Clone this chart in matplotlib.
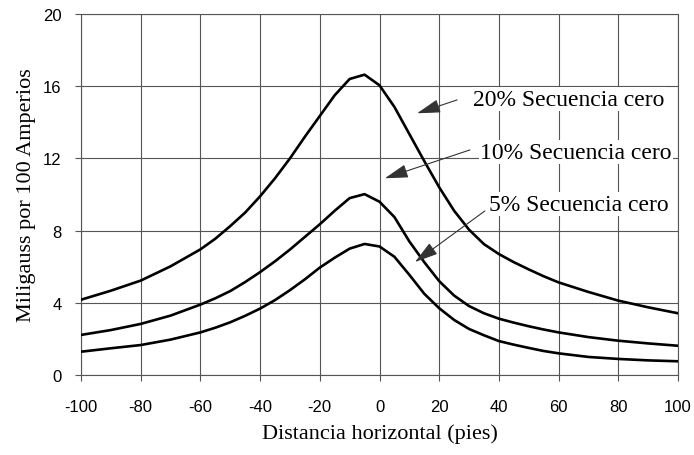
import matplotlib.pyplot as plt

plt.rcParams['axes.unicode_minus'] = False

# Distancia horizontal (pies)
x = [-100, -90, -80, -70, -60, -55, -50, -45, -40, -35, -30, -25, -20, -15, -10, -5,
     0, 5, 10, 15, 20, 25, 30, 35, 40, 45, 50, 55, 60, 70, 80, 90, 100]

# Miligauss por 100 Amperios
seq_20 = [4.17, 4.67, 5.23, 6.02, 6.96, 7.55, 8.25, 9.0, 9.9, 10.9, 12.0, 13.2, 14.35, 15.5, 16.4, 16.64,
          16.05, 14.85, 13.35, 11.85, 10.4, 9.1, 8.05, 7.25, 6.7, 6.25, 5.85, 5.47, 5.13, 4.6, 4.12, 3.75, 3.42]
seq_10 = [2.22, 2.49, 2.83, 3.29, 3.9, 4.25, 4.65, 5.15, 5.7, 6.3, 6.95, 7.65, 8.35, 9.1, 9.8, 10.02,
          9.6, 8.75, 7.4, 6.25, 5.2, 4.4, 3.82, 3.42, 3.12, 2.9, 2.7, 2.52, 2.36, 2.1, 1.9, 1.75, 1.62]
seq_5 = [1.29, 1.48, 1.66, 1.96, 2.36, 2.62, 2.92, 3.28, 3.68, 4.15, 4.7, 5.3, 5.95, 6.5, 7.0, 7.26,
         7.12, 6.55, 5.55, 4.5, 3.7, 3.05, 2.55, 2.2, 1.88, 1.68, 1.5, 1.33, 1.2, 1.0, 0.89, 0.81, 0.76]

labels = ['20% Secuencia cero', '10% Secuencia cero', '5% Secuencia cero']
text_pos = [(31.3, 15.29), (33.7, 12.35), (36.7, 9.47)]
arrow_tail = [(26.0, 15.24), (30.3, 12.47), (35.3, 9.09)]
arrow_head = [(12.6, 14.5), (1.8, 10.9), (11.9, 6.26)]

serif = 'Liberation Serif'
sans = 'Liberation Sans'
grid_col = '#555555'

fig = plt.figure(figsize=(6.94, 4.56), dpi=100)
ax = fig.add_axes([81 / 694, 80 / 456, 597 / 694, 361 / 456])

for s in [seq_20, seq_10, seq_5]:
    ax.plot(x, s, color='black', lw=1.9, zorder=3, solid_joinstyle='round')

ax.set_xlim(-100, 100)
ax.set_ylim(0, 20)
ax.set_xticks(range(-100, 101, 20))
ax.set_yticks(range(0, 21, 4))
ax.grid(True, color=grid_col, lw=0.8)
ax.set_axisbelow(True)
for sp in ax.spines.values():
    sp.set_color(grid_col)
    sp.set_linewidth(0.8)
ax.tick_params(direction='out', length=4, width=0.8, color=grid_col, labelsize=12)
for lab in ax.get_xticklabels() + ax.get_yticklabels():
    lab.set_fontfamily(sans)
ax.tick_params(axis='x', pad=13)
ax.tick_params(axis='y', pad=10)

ax.set_xlabel('Distancia horizontal (pies)', fontfamily=serif, fontsize=16)
ax.set_ylabel('Miligauss por 100 Amperios', fontfamily=serif, fontsize=16)
ax.xaxis.set_label_coords(0.5, -0.135)
ax.yaxis.set_label_coords(-0.075, 0.5)

for lab, tp, tail, head in zip(labels, text_pos, arrow_tail, arrow_head):
    ax.text(tp[0], tp[1], lab, fontfamily=serif, fontsize=17, ha='left', va='center',
            bbox=dict(facecolor='white', edgecolor='none', pad=1), zorder=4)
    ax.annotate('', xy=head, xytext=tail,
                arrowprops=dict(arrowstyle='-|>,head_length=1.2,head_width=0.35',
                                mutation_scale=12, color='#333333', lw=0.8,
                                shrinkA=0, shrinkB=0),
                zorder=5)

fig.savefig('out.png', dpi=100, facecolor='white')
